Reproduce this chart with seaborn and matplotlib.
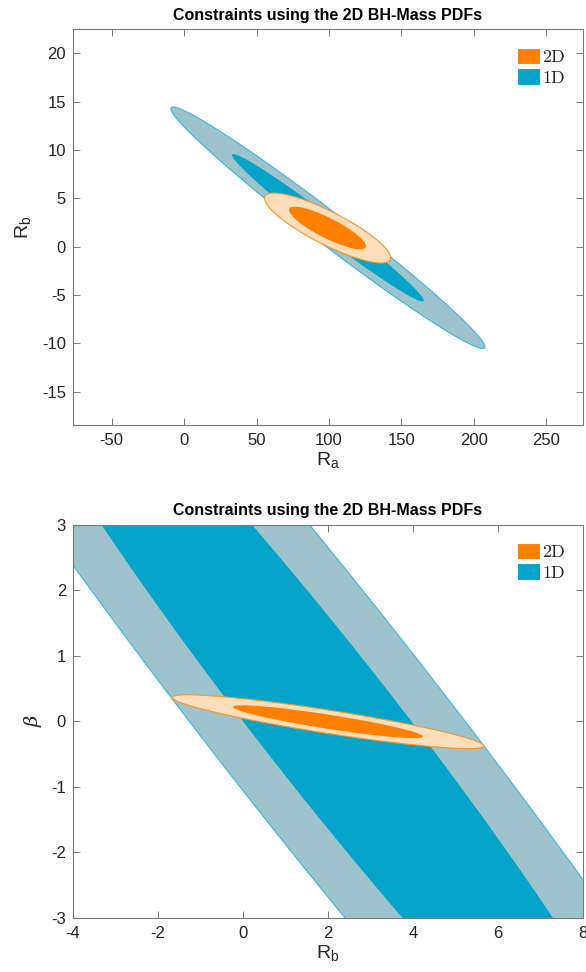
import numpy as np
import matplotlib
matplotlib.use("Agg")
import matplotlib.pyplot as plt
from matplotlib.patches import Patch
import seaborn as sns

# ---------------- data ----------------
title_text = "Constraints using the 2D BH-Mass PDFs"
legend_labels = ["2D", "1D"]
# chi^2 levels of the two contours (68.3 % and 95.4 % for 2 parameters)
contour_levels = [2.30, 6.18]

# top panel: (R_a, R_b)
top_1d_center = [99.2, 1.96]
top_1d_sigma = [43.6, 5.02]
top_1d_rho = -0.986
top_2d_center = [99.0, 1.93]
top_2d_sigma = [17.5, 1.453]
top_2d_rho = -0.85
top_xticks = [-50, 0, 50, 100, 150, 200, 250]
top_yticks = [-15, -10, -5, 0, 5, 10, 15, 20]
top_xlim = [-76.7, 275.3]
top_ylim = [-18.42, 22.44]

# bottom panel: (R_b, beta)
bot_1d_center = [1.98, 0.0]
bot_1d_sigma = [5.37, 4.41]
bot_1d_rho = -0.970
bot_2d_center = [2.0, -0.007]
bot_2d_sigma = [1.475, 0.165]
bot_2d_rho = -0.90
bot_xticks = [-4, -2, 0, 2, 4, 6, 8]
bot_yticks = [-3, -2, -1, 0, 1, 2, 3]
bot_xlim = [-4, 8]
bot_ylim = [-3, 3]

# ---------------- style ----------------
sns.set_theme(style="white")
plt.rcParams["font.family"] = ["Liberation Sans", "DejaVu Sans"]
plt.rcParams["axes.unicode_minus"] = False

C_1D_OUT = "#9DC3CD"
C_1D_IN = "#05A4C8"
C_1D_EDGE = "#3DB6D9"
C_2D_OUT = "#FEDDBA"
C_2D_IN = "#FF8000"
C_2D_EDGE = "#F5972C"
AX_COL = "#7a7a7a"
TXT_COL = "#262626"


def ellipse_xy(center, sigma, rho, level, n=600):
    t = np.linspace(0, 2 * np.pi, n)
    sx, sy = sigma
    cov = np.array([[sx * sx, rho * sx * sy], [rho * sx * sy, sy * sy]])
    L = np.linalg.cholesky(cov)
    pts = np.sqrt(level) * (L @ np.vstack([np.cos(t), np.sin(t)]))
    return center[0] + pts[0], center[1] + pts[1]


def draw_panel(ax, c1, s1, r1, c2, s2, r2):
    lo, hi = contour_levels
    x, y = ellipse_xy(c1, s1, r1, hi)
    ax.fill(x, y, facecolor=C_1D_OUT, edgecolor=C_1D_EDGE, linewidth=0.8, zorder=1)
    x, y = ellipse_xy(c1, s1, r1, lo)
    ax.fill(x, y, facecolor=C_1D_IN, edgecolor="none", zorder=2)
    x, y = ellipse_xy(c2, s2, r2, hi)
    ax.fill(x, y, facecolor=C_2D_OUT, edgecolor=C_2D_EDGE, linewidth=0.8, zorder=3)
    x, y = ellipse_xy(c2, s2, r2, lo)
    ax.fill(x, y, facecolor=C_2D_IN, edgecolor="none", zorder=4)


def style_axes(ax, xticks, yticks, xlim, ylim, xlabel, ylabel, ylabel_kw=None):
    ax.set_xlim(xlim)
    ax.set_ylim(ylim)
    ax.set_xticks(xticks)
    ax.set_yticks(yticks)
    ax.set_xticklabels([str(v) for v in xticks])
    ax.set_yticklabels([str(v) for v in yticks])
    ax.tick_params(direction="in", length=5, width=0.7, color=AX_COL,
                   labelsize=12, labelcolor=TXT_COL,
                   top=True, right=True, bottom=True, left=True)
    ax.tick_params(axis="x", pad=6)
    ax.tick_params(axis="y", pad=5)
    for sp in ax.spines.values():
        sp.set_visible(True)
        sp.set_color(AX_COL)
        sp.set_linewidth(0.8)
    ax.set_xlabel(xlabel, fontsize=14, color=TXT_COL, labelpad=2)
    kw = ylabel_kw or {}
    ax.set_ylabel(ylabel, fontsize=14, color=TXT_COL, labelpad=6, **kw)
    ax.set_title(title_text, fontsize=11.5, fontweight="bold", color="black", pad=7)
    handles = [Patch(facecolor=C_2D_IN, edgecolor="white", linewidth=0.8),
               Patch(facecolor=C_1D_IN, edgecolor="white", linewidth=0.8)]
    ax.legend(handles, legend_labels, loc="upper right", frameon=False,
              prop={"family": "cmr10", "size": 13},
              handlelength=1.25, handleheight=1.0, handletextpad=0.12,
              labelspacing=0.2, borderaxespad=0.6)
    ax.set_facecolor("white")


fig = plt.figure(figsize=(5.86, 9.72), dpi=100)
ax1 = fig.add_axes([73 / 586, 1 - 425 / 972, 510 / 586, 395.5 / 972])
ax2 = fig.add_axes([73 / 586, 1 - 918 / 972, 510 / 586, 393.5 / 972])

draw_panel(ax1, top_1d_center, top_1d_sigma, top_1d_rho,
           top_2d_center, top_2d_sigma, top_2d_rho)
style_axes(ax1, top_xticks, top_yticks, top_xlim, top_ylim,
           r"R$_\mathregular{a}$", r"R$_\mathregular{b}$")

draw_panel(ax2, bot_1d_center, bot_1d_sigma, bot_1d_rho,
           bot_2d_center, bot_2d_sigma, bot_2d_rho)
style_axes(ax2, bot_xticks, bot_yticks, bot_xlim, bot_ylim,
           r"R$_\mathregular{b}$", "β",
           ylabel_kw={"family": ["DejaVu Serif"], "style": "italic"})

fig.savefig("out.png", dpi=100, facecolor="white")
